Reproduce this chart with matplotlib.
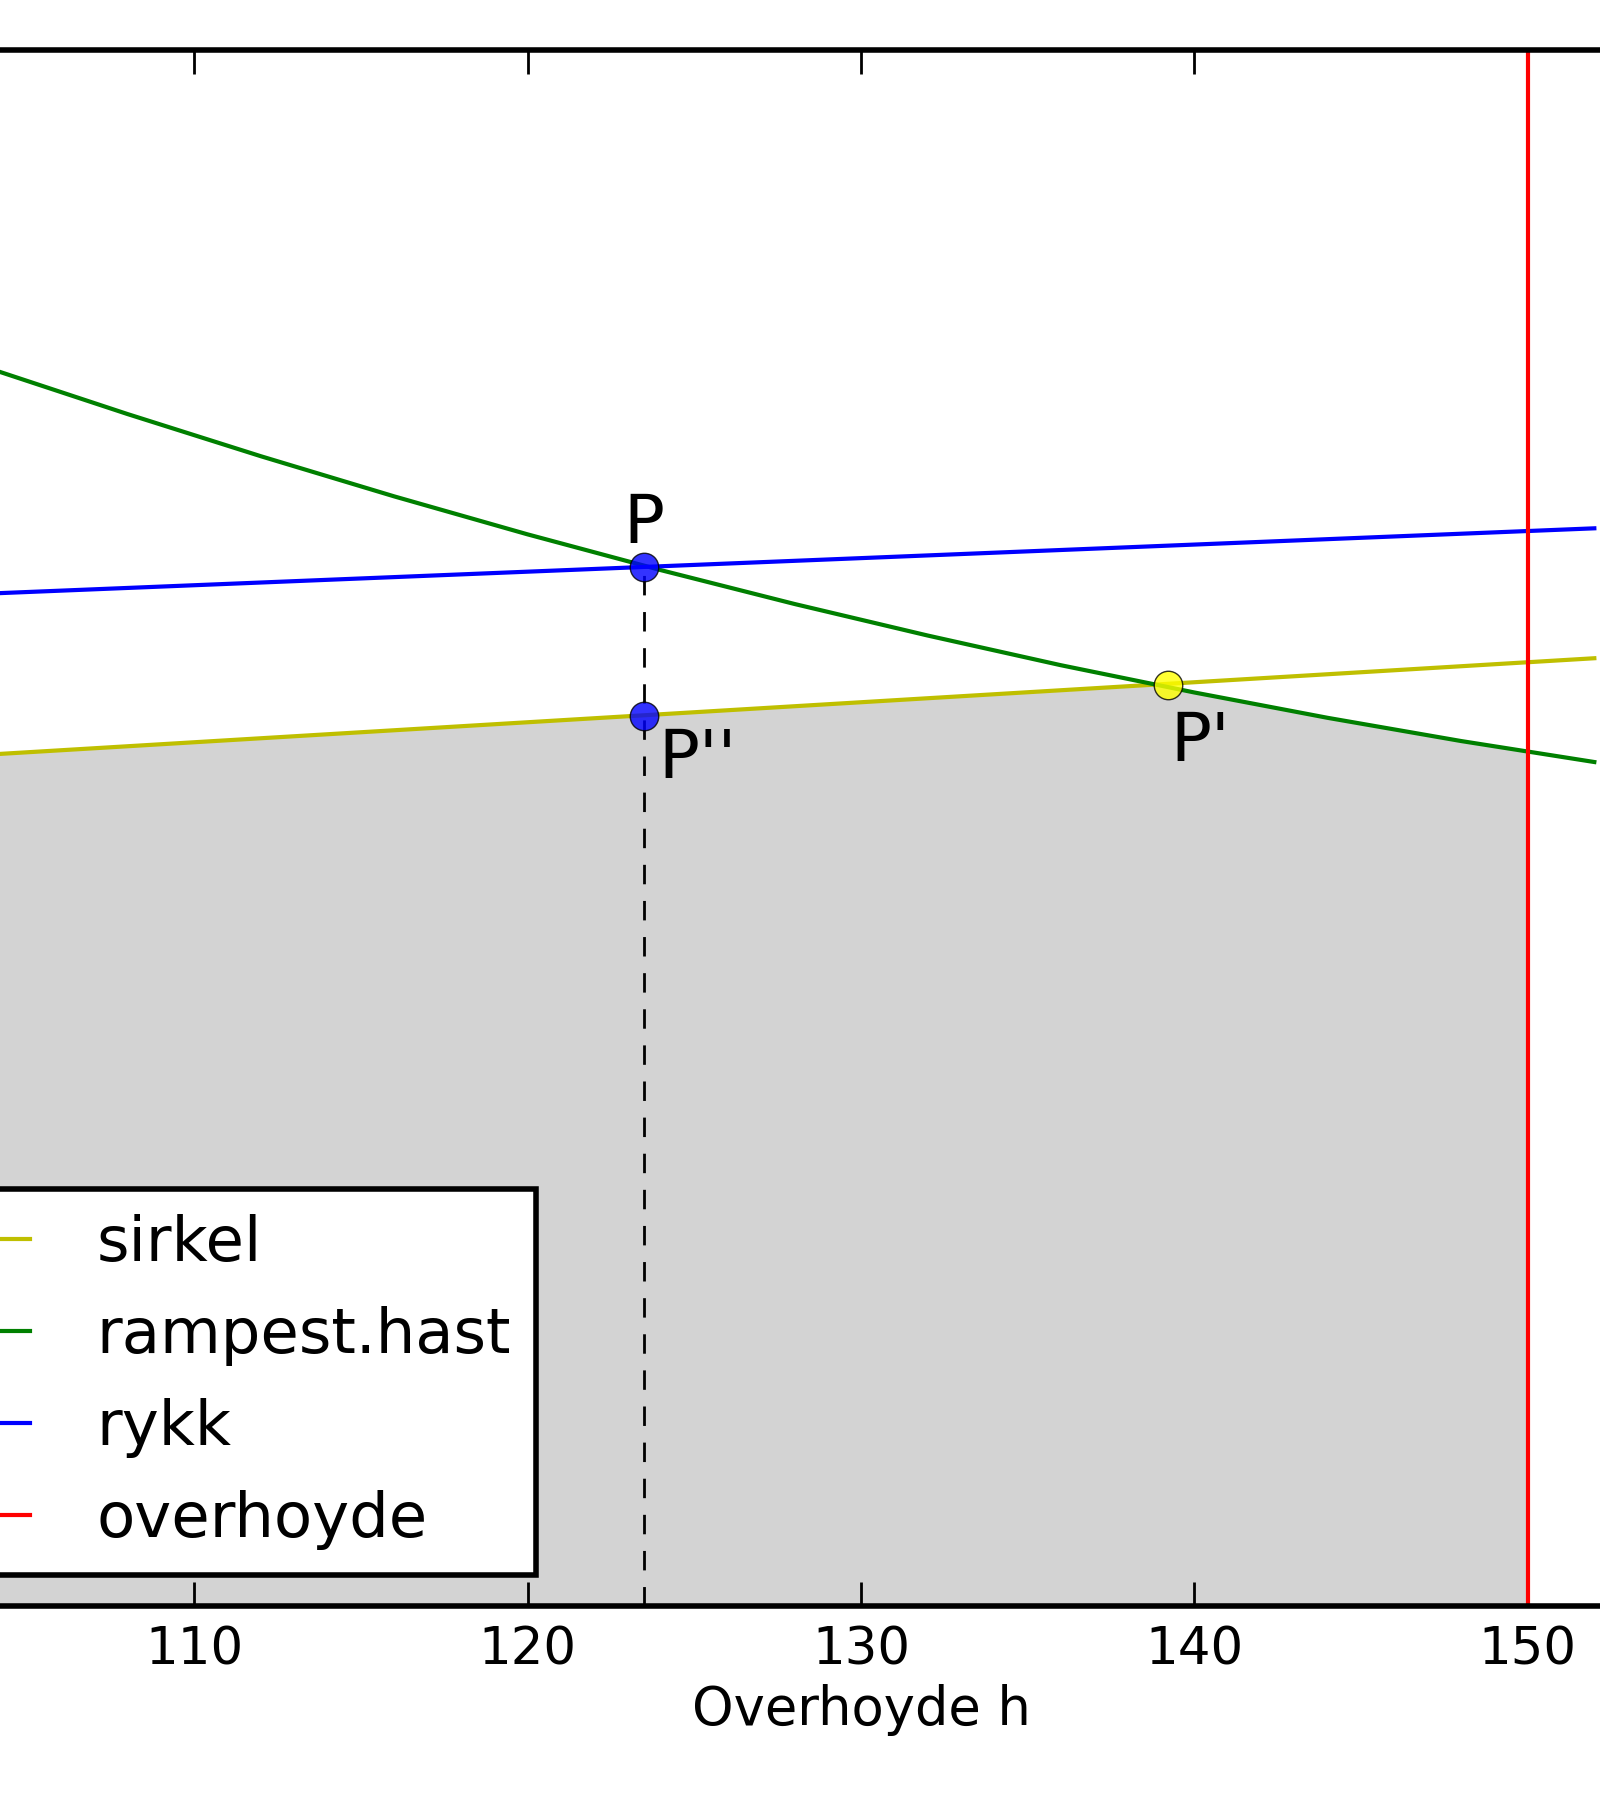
import numpy as np
import matplotlib
matplotlib.use('Agg')
import matplotlib.pyplot as plt

# Overhoyde h (x values)
h_lines = [104, 152]
# sirkel and rykk are straight lines
v_sirkel = [54.74, 60.91]
v_rykk = [65.08, 69.26]
# rampest.hast curve
h_ramp = [104, 108, 112, 116, 120, 124, 128, 132, 136, 140, 144, 148, 152]
v_ramp = [79.43, 76.60, 73.89, 71.31, 68.87, 66.57, 64.40, 62.37, 60.46, 58.71, 57.08, 55.59, 54.24]
# overhoyde limit
h_max = 150
# points
P = (123.5, 66.8)
P2 = (123.5, 57.2)   # P''
P1 = (139.2, 59.2)   # P'
# allowed region boundary (min of sirkel and rampest.hast up to h_max)
fill_h = [104, 139.2, 140, 144, 148, 150]
fill_v = [54.74, 59.2, 58.71, 57.08, 55.59, 55.0]
xticks = [110, 120, 130, 140, 150]

plt.rcParams['font.family'] = 'DejaVu Sans'
fig = plt.figure(figsize=(16, 18), dpi=100)
# axes is wider than the figure: the left and right spines are cut off
ax = fig.add_axes([-139/1600, 194/1800, 2000/1600, 1556/1800])

ax.fill_between(fill_h, 0, fill_v, color='lightgray', lw=0, zorder=1)
ax.plot(h_lines, v_sirkel, color=(0.75, 0.75, 0), lw=3, label='sirkel', zorder=2)
ax.plot(h_ramp, v_ramp, color=(0, 0.5, 0), lw=3, label='rampest.hast', zorder=2)
ax.plot(h_lines, v_rykk, color='b', lw=3, label='rykk', zorder=2)
ax.axvline(h_max, color='r', lw=3, label='overhoyde', zorder=2)
ax.plot([P[0], P[0]], [0, P[1]], 'k--', lw=2, dashes=(7, 6), zorder=3)

ax.plot(*P, 'o', color='b', mec='k', ms=20.5, alpha=0.8, zorder=4)
ax.plot(*P2, 'o', color='b', mec='k', ms=20.5, alpha=0.8, zorder=4)
ax.plot(*P1, 'o', color='yellow', mec='k', ms=20.5, alpha=0.8, zorder=4)

ax.annotate('P', P, xytext=(0, 24), textcoords='offset pixels',
            ha='center', va='baseline', fontsize=49)
ax.annotate("P''", P2, xytext=(14, -62), textcoords='offset pixels',
            ha='left', va='baseline', fontsize=49)
ax.annotate("P'", P1, xytext=(3, -76), textcoords='offset pixels',
            ha='left', va='baseline', fontsize=49)

ax.set_xlim(100, 160)
ax.set_ylim(0, 100)
ax.set_xticks(xticks)
ax.set_yticks([0, 20, 40, 60, 80, 100])
ax.set_yticklabels([])
ax.tick_params(direction='in', length=17, width=2, labelsize=37, pad=14,
               top=True, right=True)
for s in ax.spines.values():
    s.set_linewidth(4)
ax.set_xlabel('Overhoyde h', fontsize=38, labelpad=6)

leg = ax.legend(loc='lower left', fontsize=45, frameon=True, fancybox=False,
                framealpha=1, facecolor='white', edgecolor='k',
                borderaxespad=0.5, borderpad=0.4, labelspacing=0.51,
                handlelength=1.8, handletextpad=1.07)
leg.get_frame().set_linewidth(4)
leg.set_zorder(5)

plt.savefig('out.png', dpi=100)
